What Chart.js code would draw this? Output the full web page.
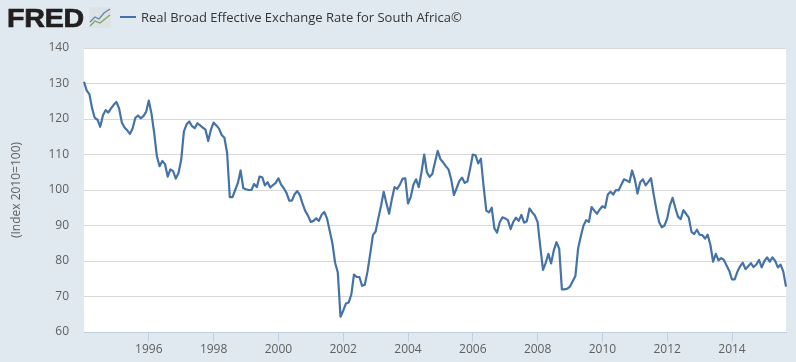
<!DOCTYPE html>
<html><head><meta charset="utf-8">
<style>
html,body{margin:0;padding:0;background:#e1e9f0;width:796px;height:362px;overflow:hidden}
#wrap{position:relative;width:796px;height:362px}
canvas{position:absolute;left:0;top:0}
#logo{position:absolute;left:7px;top:0;font:bold 26px/36px "Liberation Sans",Arial,sans-serif;color:#231f20;-webkit-text-stroke:.7px #231f20;transform:scaleX(1.1);transform-origin:left center;letter-spacing:-.2px}
#icon{position:absolute;left:89px;top:7px}
#swatch{position:absolute;left:120px;top:16px;width:16px;height:2px;background:#4572a7}
#legend{position:absolute;left:141px;top:7px;font:13px/20px "Open Sans",sans-serif;color:#333}
</style></head><body>
<div id="wrap">
<canvas id="c" width="796" height="362"></canvas>
<div id="logo">FRED</div>
<svg id="icon" width="22" height="21"><rect width="22" height="21" rx="1" fill="#dde2e6"/><polyline points="1,15 6,10 10,12 15,6 21,2" fill="none" stroke="#5b84ad" stroke-width="1.2"/><polyline points="1,19 6,14 11,16 16,12 21,8" fill="none" stroke="#7fa35a" stroke-width="1.2"/></svg>
<div id="swatch"></div>
<div id="legend">Real Broad Effective Exchange Rate for South Africa©</div>
</div>
<script src="https://cdn.jsdelivr.net/npm/chart.js@4"></script>
<script>
const seriesName = "Real Broad Effective Exchange Rate for South Africa©";
const yAxisTitle = "(Index 2010=100)";
const yTicks = [60,70,80,90,100,110,120,130,140];
const xTickYears = [1996,1998,2000,2002,2004,2006,2008,2010,2012,2014];
const startYear = 1994;
const values = [
130.5,128,127,123,120.3,119.8,117.8,121,122.5,121.8,123,124,
124.8,123,119,117.6,116.8,115.8,117.3,120.3,121,120.2,120.8,122,
125.2,121.5,116,109.5,106.7,108.2,107.3,103.8,105.8,105.3,103.2,104.8,
108.5,116.5,118.5,119.3,118,117.4,118.8,118.2,117.6,117,113.8,117,
119,118.2,117.3,115.5,114.7,110.5,98,98,100,102,105.5,100.5,
100.2,100,100,101.7,100.8,103.8,103.6,101.3,102.2,100.7,101.4,102,
103.3,101.5,100.5,99.2,97,97,98.8,99.7,98.5,96,94,92.7,
91,91.3,92,91.3,93,93.8,92,88.5,85,79.5,76.8,64.3,
66,68,68.3,70.5,76.2,75.5,75.5,73,73.3,77,82,87.3,
88.3,92,95.5,99.5,96.3,93.3,97.3,100.8,100.3,101.5,103.2,103.3,
96.2,98,101.5,103,100.8,105,110,105,103.7,104.5,107.8,111,
108.7,107.8,106.7,105.8,103,98.6,100.5,102.5,103.5,102,102.4,106,
110,109.8,107.5,108.8,101,94.2,93.7,95,89.2,88,91,92.3,
92,91.5,89,91,92.2,91.3,93,90.8,91.2,94.8,93.7,92.8,
91,84,77.5,79.5,82,79.3,83,85.3,83.5,72,72,72.2,
72.8,74.3,75.8,83.5,87,90,91.5,91,95.2,94.2,93.3,94.5,
95.4,95,98.7,99.5,98.7,100,99.9,101.5,103,102.7,102.2,105.5,
103,99,102.2,103,101.3,102.3,103.3,98.7,94.5,91,89.5,90,
92,95.7,97.8,95,92.5,91.8,94.3,93.3,92.2,88.2,87.6,88.8,
87.4,87.3,86.3,87.4,84.5,79.8,82,80.2,80.8,80.3,78.7,77.2,
74.8,74.8,77,78.5,79.5,77.7,78.5,79.4,78.3,79,80.3,78.2,
80,81,79.8,81,80,78.2,79,77,72.8
];
const months = values.map((_, i) => (startYear + Math.floor(i / 12)) + "-" + String(i % 12 + 1).padStart(2, "0"));

const plotBg = {
  id: "plotBg",
  beforeDraw(chart) {
    const a = chart.chartArea, g = chart.ctx;
    g.save(); g.fillStyle = "#ffffff";
    g.fillRect(a.left, a.top, a.right - a.left, a.bottom - a.top);
    g.restore();
  }
};
const FONT = '"Open Sans", sans-serif';
Chart.defaults.animation = false;
new Chart(document.getElementById("c"), {
  type: "line",
  data: { labels: months, datasets: [{
    label: seriesName, data: values, borderColor: "#4572a7", borderWidth: 2.2,
    pointRadius: 0, tension: 0, fill: false, borderJoinStyle: "round"
  }]},
  plugins: [plotBg],
  options: {
    responsive: false, animation: false,
    layout: { padding: { top: 48, right: 10, left: 0, bottom: 0 } },
    plugins: { legend: { display: false }, tooltip: { enabled: false } },
    scales: {
      x: {
        type: "category", offset: false,
        afterFit(s) { s.height = 30; },
        afterBuildTicks(s) {
          s.ticks = xTickYears.map(y => ({ value: months.indexOf(y + "-01") }));
        },
        ticks: { autoSkip: false, maxRotation: 0, minRotation: 0, color: "#606060", padding: 0,
          font: { family: FONT, size: 12 },
          callback(v) { return this.getLabelForValue(v).slice(0, 4); } },
        grid: { drawOnChartArea: false, drawTicks: true, tickLength: 10, tickColor: "#c0d0e0", color: "#c0d0e0" },
        border: { color: "#c0d0e0", width: 1 }
      },
      y: {
        min: 60, max: 140,
        afterFit(s) { s.width = 84; },
        afterBuildTicks(s) { s.ticks = yTicks.map(v => ({ value: v })); },
        ticks: { color: "#606060", padding: 15, font: { family: FONT, size: 12 } },
        grid: { color: c => c.tick && c.tick.value === 60 ? "rgba(0,0,0,0)" : "#d8d8d8", lineWidth: 1, drawTicks: false },
        border: { display: false },
        title: { display: true, text: yAxisTitle, color: "#606060", padding: { top: 9, bottom: 0 }, font: { family: FONT, size: 12 } }
      }
    }
  }
});
</script>
</body></html>
